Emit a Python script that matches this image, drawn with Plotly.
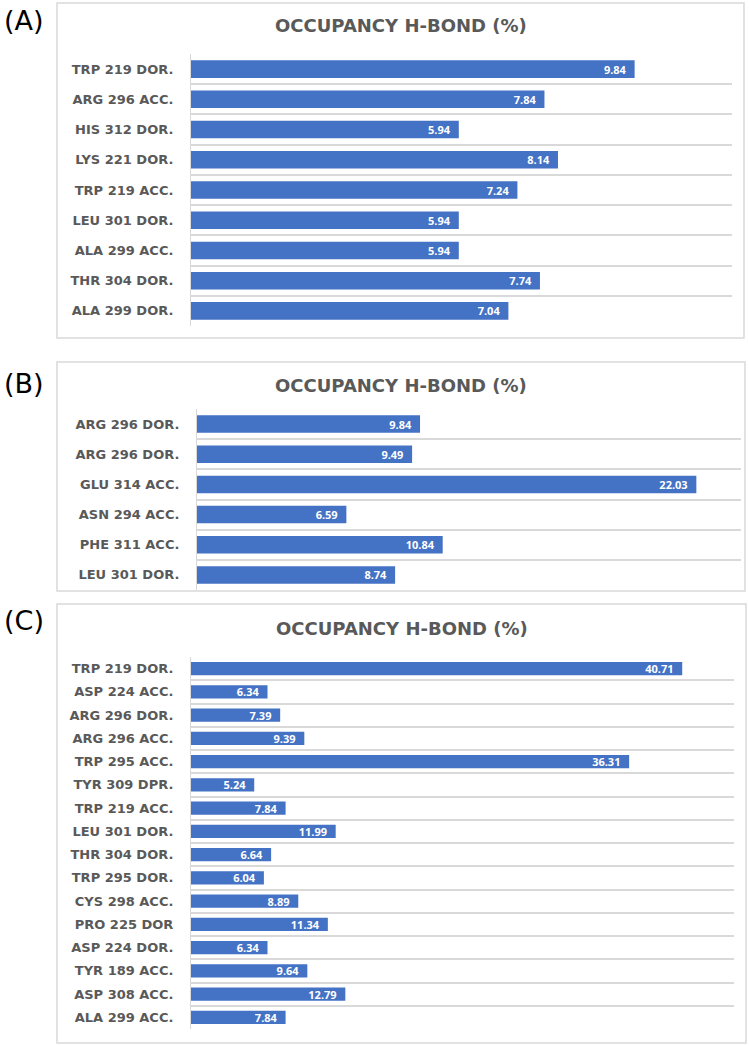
import plotly.graph_objects as go

# Panel (A)
labels_a = ["TRP 219 DOR.", "ARG 296 ACC.", "HIS 312 DOR.", "LYS 221 DOR.", "TRP 219 ACC.",
            "LEU 301 DOR.", "ALA 299 ACC.", "THR 304 DOR.", "ALA 299 DOR."]
values_a = [9.84, 7.84, 5.94, 8.14, 7.24, 5.94, 5.94, 7.74, 7.04]

# Panel (B)
labels_b = ["ARG 296 DOR.", "ARG 296 DOR.", "GLU 314 ACC.", "ASN 294 ACC.", "PHE 311 ACC.", "LEU 301 DOR."]
values_b = [9.84, 9.49, 22.03, 6.59, 10.84, 8.74]

# Panel (C)
labels_c = ["TRP 219 DOR.", "ASP 224 ACC.", "ARG 296 DOR.", "ARG 296 ACC.", "TRP 295 ACC.",
            "TYR 309 DPR.", "TRP 219 ACC.", "LEU 301 DOR.", "THR 304 DOR.", "TRP 295 DOR.",
            "CYS 298 ACC.", "PRO 225 DOR", "ASP 224 DOR.", "TYR 189 ACC.", "ASP 308 ACC.",
            "ALA 299 ACC."]
values_c = [40.71, 6.34, 7.39, 9.39, 36.31, 5.24, 7.84, 11.99, 6.64, 6.04, 8.89, 11.34,
            6.34, 9.64, 12.79, 7.84]

W, H = 749, 1046
BAR = "#4472C4"
GRID = "#D9D9D9"
TXT = "#595959"


def px(x):
    return x / W


def py(y):
    return 1 - y / H


# (labels, values, x max, x domain px, y domain px, box px, title y px, tag, tag y px)
panels = [
    (labels_a, values_a, 12, (191, 732), (54, 326), (57, 3, 744, 338), 25, "(A)", 20),
    (labels_b, values_b, 24, (197, 741), (409, 590), (57, 362, 745, 591), 385, "(B)", 383),
    (labels_c, values_c, 45, (191, 734), (657, 1029), (57, 604, 746, 1043), 628, "(C)", 621),
]

fig = go.Figure()
layout = dict(width=W, height=H, margin=dict(l=0, r=0, t=0, b=0),
              paper_bgcolor="white", plot_bgcolor="white", showlegend=False,
              shapes=[], annotations=[])

for k, (labels, values, xmax, xd, yd, box, ty, tag, tagy) in enumerate(panels, start=1):
    n = len(labels)
    pos = list(range(n))
    sfx = "" if k == 1 else str(k)
    fig.add_trace(go.Bar(
        x=values, y=pos, orientation="h", width=0.58,
        marker=dict(color=BAR, line=dict(width=0)),
        texttemplate="%{x:.2f}\u00a0\u00a0", textposition="inside", insidetextanchor="end",
        textfont=dict(color="white", size=11, family="Open Sans", weight="bold"),
        constraintext="none",
        xaxis="x" + sfx, yaxis="y" + sfx, hoverinfo="skip",
    ))
    layout["xaxis" + sfx] = dict(
        domain=[px(xd[0]), px(xd[1])], range=[0, xmax], anchor="y" + sfx,
        showgrid=False, zeroline=False, showticklabels=False, showline=False, fixedrange=True,
    )
    layout["yaxis" + sfx] = dict(
        domain=[py(yd[1]), py(yd[0])], range=[n - 0.5, -0.5], anchor="x" + sfx,
        tickmode="array", tickvals=pos, ticktext=labels, showgrid=False, zeroline=False,
        showline=True, linecolor=GRID, linewidth=1, ticks="", ticklabelstandoff=14,
        tickfont=dict(family="DejaVu Sans", size=13, color=TXT, weight="bold"),
        minor=dict(tickvals=[p - 0.5 for p in range(n + 1)], showgrid=True,
                   gridcolor=GRID, gridwidth=1.5, ticks=""),
        fixedrange=True,
    )
    x0, y0, x1, y1 = box
    layout["shapes"].append(dict(type="rect", xref="paper", yref="paper",
                                 x0=px(x0), x1=px(x1), y0=py(y1), y1=py(y0),
                                 line=dict(color=GRID, width=1.5), layer="below"))
    layout["annotations"].append(dict(
        text="OCCUPANCY H-BOND (%)", xref="paper", yref="paper",
        x=px((x0 + x1) / 2), y=py(ty), showarrow=False, xanchor="center", yanchor="middle",
        font=dict(family="DejaVu Sans", size=18, color=TXT, weight="bold")))
    layout["annotations"].append(dict(
        text=tag, xref="paper", yref="paper", x=px(2), y=py(tagy), showarrow=False,
        xanchor="left", yanchor="middle", font=dict(family="DejaVu Sans", size=27, color="black")))

fig.update_layout(**layout)
# drop the browser's default body margin so the figure fills the window exactly
fig.write_html("out.html", config={"displayModeBar": False},
               post_script="document.body.style.margin = '0';")
